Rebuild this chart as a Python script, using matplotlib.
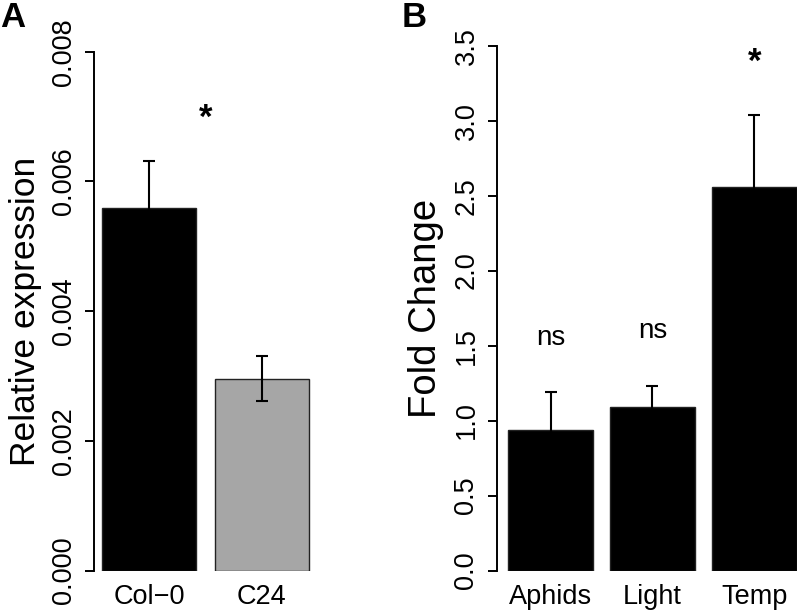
import matplotlib
matplotlib.use("Agg")
import matplotlib.pyplot as plt

plt.rcParams['font.family'] = ['Liberation Sans', 'DejaVu Sans']

# panel A
genotypes = ['Col\u22120', 'C24']
rel_expr = [0.00559, 0.00296]
rel_sem = [0.00073, 0.00034]
geno_colors = ['black', '#a6a6a6']

# panel B
treatments = ['Aphids', 'Light', 'Temp']
fold_change = [0.94, 1.09, 2.56]
fold_sem = [0.25, 0.14, 0.48]
signif = ['ns', 'ns', '*']
signif_y = [1.55, 1.60, 3.39]


def r_barplot(ax, values, sem, labels, colors, ymax, yticks):
    # R barplot geometry: width 1, space 0.2
    n = len(values)
    lefts = [0.2 + i * 1.2 for i in range(n)]
    centers = [l + 0.5 for l in lefts]
    ax.bar(centers, values, width=1.0, color=colors, edgecolor='#222222', linewidth=1.0, zorder=2)
    ax.errorbar(centers, values, yerr=sem, fmt='none', ecolor='black', elinewidth=1.5,
                capsize=4.3, capthick=1.5, zorder=3)
    span = lefts[-1] + 1 - lefts[0]
    ax.set_xlim(lefts[0] - 0.04 * span, lefts[-1] + 1 + 0.04 * span)
    ax.set_ylim(0, ymax)
    for s in ['top', 'right', 'bottom']:
        ax.spines[s].set_visible(False)
    ax.spines['left'].set_bounds(0, ymax)
    ax.spines['left'].set_linewidth(1.4)
    ax.set_xticks(centers)
    ax.set_xticklabels(labels, fontsize=19.5)
    ax.tick_params(axis='x', length=0, pad=10)
    ax.set_yticks(yticks)
    ax.tick_params(axis='y', length=6.3, width=1.4, pad=6, labelsize=19.5)
    for t in ax.get_yticklabels():
        t.set_rotation(90)
        t.set_va('center')
    return centers


fig = plt.figure(figsize=(7.97, 6.13), dpi=100)
W, H = 797, 613

axA = fig.add_axes([93.7 / W, (H - 570.5) / H, 223.3 / W, 518.8 / H])
ctrA = r_barplot(axA, rel_expr, rel_sem, genotypes, geno_colors, 0.008,
                 [0.0, 0.002, 0.004, 0.006, 0.008])
axA.set_yticklabels(['0.000', '0.002', '0.004', '0.006', '0.008'])
axA.set_ylabel('Relative expression', fontsize=25.5)
axA.yaxis.set_label_coords(-52 / 223.3, 0.5)
axA.text((ctrA[0] + ctrA[1]) / 2, 0.00697, '*', ha='center', va='center',
         fontsize=25, fontweight='bold', clip_on=False)

axB = fig.add_axes([496.5 / W, (H - 570.5) / H, 311.8 / W, 524.8 / H])
ctrB = r_barplot(axB, fold_change, fold_sem, treatments, ['black'] * 3, 3.5,
                 [0.0, 0.5, 1.0, 1.5, 2.0, 2.5, 3.0, 3.5])
axB.set_yticklabels(['0.0', '0.5', '1.0', '1.5', '2.0', '2.5', '3.0', '3.5'])
axB.set_ylabel('Fold Change', fontsize=27.5)
axB.yaxis.set_label_coords(-53 / 311.8, 0.5)
for c, s, y in zip(ctrB, signif, signif_y):
    if s == '*':
        axB.text(c, y, s, ha='center', va='center', fontsize=25,
                 fontweight='bold', clip_on=False)
    else:
        axB.text(c, y, s, ha='center', va='center', fontsize=20, clip_on=False)

fig.text(0 / W, 1 - 1 / H, 'A', fontsize=25, fontweight='bold', ha='left', va='top')
fig.text(402 / W, 1 - 1 / H, 'B', fontsize=25, fontweight='bold', ha='left', va='top')

fig.savefig('out.png', dpi=100)
